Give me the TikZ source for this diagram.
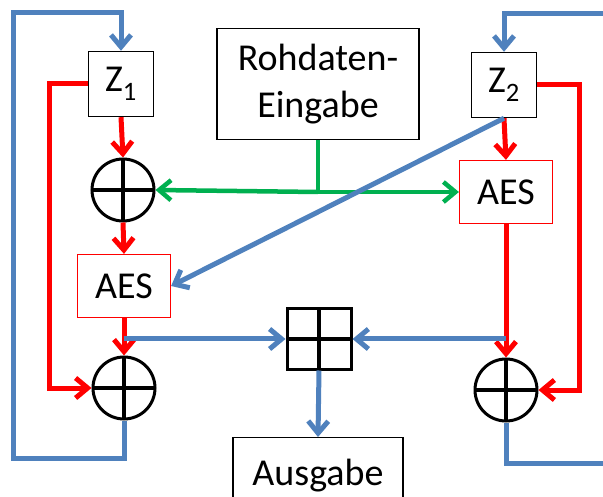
\documentclass[tikz,border=0pt]{standalone}
\usepackage{fontspec}
\setmainfont{Carlito}
\usetikzlibrary{arrows.meta}

\definecolor{cblue}{RGB}{79,129,189}
\definecolor{cgreen}{RGB}{0,176,80}

\begin{document}
\begin{tikzpicture}[x=1pt, y=-1pt,
		>={Straight Barb[length=12pt, width=20pt]},
		blueline/.style={draw=cblue, line width=5pt},
		redline/.style={draw=red, line width=5pt},
		greenline/.style={draw=cgreen, line width=4.5pt},
		regbox/.style={draw, line width=1.4pt, minimum width=65pt, minimum height=65pt},
		aesbox/.style={draw=red, line width=1.2pt, minimum width=93pt, minimum height=63pt},
		xorop/.style={circle, draw, line width=3pt, minimum size=62pt,
			path picture={\draw[line width=4.5pt] (path picture bounding box.north) -- (path picture bounding box.south)
				(path picture bounding box.west) -- (path picture bounding box.east);}},
		addop/.style={rectangle, draw, line width=3pt, minimum width=64pt, minimum height=60pt,
			path picture={\draw[line width=4.5pt] (path picture bounding box.north) -- (path picture bounding box.south)
				(path picture bounding box.west) -- (path picture bounding box.east);}}]
				\tikzstyle{every node}=[inner sep=1pt, align=center, font=\fontsize{38}{47}\selectfont]
				\useasboundingbox (0,0) rectangle (603,497);
				\node[regbox] (Z1) at (121, 84) {Z\textsubscript{1}};
				\node[regbox] (Z2) at (504, 85) {Z\textsubscript{2}};
				\node[draw, line width=1.4pt, minimum width=202pt, minimum height=111pt] (raw) at (318, 84) {Rohdaten-\\Eingabe};
				\node[xorop] (xorA) at (123, 190) {};
				\node[aesbox] (aes1) at (124, 286) {AES};
				\node[aesbox] (aes2) at (506, 192) {AES};
				\node[xorop] (xorB) at (124, 388) {};
				\node[xorop] (xorC) at (506, 390) {};
				\node[addop] (plus) at (319, 339) {};
				\node[draw, line width=1.4pt, minimum width=170pt, minimum height=76pt, anchor=north] (out) at (318, 437) {Ausgabe};
				\coordinate (lb) at (13, 458);
				\coordinate (lt) at (13, 13);
				\coordinate (rl) at (49, 84);
				\coordinate (rr) at (579, 85);
				\coordinate (rt) at (603, 14);
				\coordinate (rb) at (603, 463);
				\draw [blueline, ->] (xorB.south) |- (lb) -- (lt) -| (Z1.north);
				\draw [blueline, ->] (rt) -| (Z2.north);
				\draw [blueline] (xorC.south) |- (rb);
				\draw [redline, ->] (Z1.west) -- (rl) |- (xorB.west);
				\draw [redline, ->] (Z2.east) -- (rr) |- (xorC.east);
				\draw [redline, ->] (Z1.south) -- (xorA.north);
				\draw [redline, ->] (xorA.south) -- (aes1.north);
				\draw [redline, ->] (aes1.south) -- (xorB.north);
				\draw [redline, ->] (Z2.south) -- (aes2.north);
				\draw [redline, ->] (aes2.south) -- (xorC.north);
				\draw [greenline] (raw.south) -- (raw.south |- aes2.west) coordinate (gj);
				\draw [greenline, ->] (gj) -- (xorA.east);
				\draw [greenline, ->] (gj) -- (aes2.west);
				\draw [blueline, ->] (Z2.south) -- (aes1.east);
				\draw [blueline, ->] (aes1.south |- plus.west) -- (plus.west);
				\draw [blueline, ->] (aes2.south |- plus.east) -- (plus.east);
				\draw [blueline, ->] (plus.south) -- (out.north);
		\end{tikzpicture}
\end{document}
